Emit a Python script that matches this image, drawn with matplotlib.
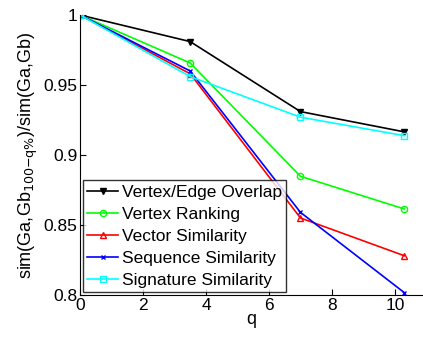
import matplotlib
matplotlib.use("Agg")
import matplotlib.pyplot as plt

q = [0, 3.5, 7, 10.3]
vertex_edge = [1.0, 0.981, 0.931, 0.9165]
vertex_rank = [1.0, 0.9657, 0.8848, 0.8614]
vector_sim = [1.0, 0.958, 0.855, 0.828]
sequence_sim = [1.0, 0.960, 0.859, 0.8016]
signature_sim = [1.0, 0.956, 0.927, 0.9138]

plt.rcParams['font.family'] = ['Liberation Sans', 'DejaVu Sans']
fig = plt.figure(figsize=(4.23, 3.41), dpi=100)
ax = fig.add_axes([0.189, 0.135, 0.811, 0.821])

ax.plot(q, vertex_edge, color='black', marker='v', markersize=5, lw=1.2, label='Vertex/Edge Overlap')
ax.plot(q, vertex_rank, color='#00ff00', marker='o', markersize=4.5, mfc='none', lw=1.2, label='Vertex Ranking')
ax.plot(q, vector_sim, color='red', marker='^', markersize=5, mfc='none', lw=1.2, label='Vector Similarity')
ax.plot(q, sequence_sim, color='blue', marker='x', markersize=3, lw=1.2, label='Sequence Similarity')
ax.plot(q, signature_sim, color='cyan', marker='s', markersize=4, mfc='none', lw=1.2, label='Signature Similarity')

ax.set_xlim(0, 10.89)
ax.set_ylim(0.8, 1.0)
ax.set_xticks([0, 2, 4, 6, 8, 10])
ax.set_yticks([0.8, 0.85, 0.9, 0.95, 1.0])
ax.set_yticklabels(['0.8', '0.85', '0.9', '0.95', '1'])
ax.spines['top'].set_visible(False)
ax.spines['right'].set_visible(False)
ax.tick_params(direction='in', labelsize=12.5, length=4, pad=2)
ax.set_xlabel('q', fontsize=13, labelpad=-1)
ax.set_ylabel(r'sim(Ga,Gb$_{100\mathsf{-q\%}}$)/sim(Ga,Gb)', fontsize=13, labelpad=2)

leg = ax.legend(loc='lower left', bbox_to_anchor=(0.0, 0.0), fontsize=12.5, frameon=True,
                fancybox=False, edgecolor='black', handlelength=1.8, handletextpad=0.2,
                borderpad=0.25, labelspacing=0.4, borderaxespad=0.15)
leg.get_frame().set_linewidth(1.0)

fig.savefig('out.png', dpi=100)
